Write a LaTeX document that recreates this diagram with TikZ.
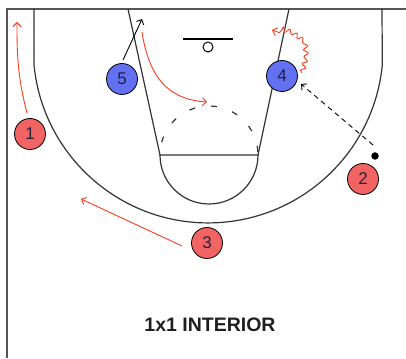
\documentclass[tikz,border=0pt]{standalone}
\usepackage{fontspec}
\setmainfont{Liberation Sans}
\usetikzlibrary{arrows.meta,decorations.pathmorphing}
\definecolor{court}{HTML}{333333}
\definecolor{border}{HTML}{555555}
\definecolor{offred}{HTML}{F26464}
\definecolor{defblue}{HTML}{6270F2}
\definecolor{runred}{HTML}{FF3B20}
\definecolor{digit}{HTML}{22223A}
\tikzset{
  courtline/.style={draw=court, line width=1.2pt},
  offense/.style={circle, draw=black, line width=0.8pt, fill=offred, minimum size=31pt, inner sep=0pt, text=digit, font=\fontsize{17}{17}\selectfont},
  defense/.style={circle, draw=black, line width=0.8pt, fill=defblue, minimum size=31pt, inner sep=0pt, text=digit, font=\fontsize{17}{17}\selectfont},
  cutarrow/.style={draw=runred, line width=0.9pt, -{Straight Barb[length=4pt,width=8pt]}},
  passarrow/.style={draw=black, line width=0.9pt, dash pattern=on 5pt off 4pt, -{Straight Barb[length=4pt,width=8pt]}},
  movearrow/.style={draw=black, line width=0.9pt, -{Straight Barb[length=4pt,width=8pt]}},
  dribble/.style={draw=runred, line width=0.9pt, decorate, decoration={snake, amplitude=2.2pt, segment length=7pt, post length=5pt}, -{Straight Barb[length=4pt,width=8pt]}}
}
\begin{document}
\begin{tikzpicture}[x=1pt,y=1pt]
\useasboundingbox[fill=white] (0,0) rectangle (406,358);
% borders
\draw[draw=border, line width=2pt] (7,0) -- (7,349) -- (406,349);
% three point line
\draw[courtline] (34,349) -- (34,293) arc[start angle=185.6, end angle=354.4, radius=175] -- (382,349);
% lane
\draw[courtline] (128,349) -- (160,203) -- (258,203) -- (289,349);
\draw[courtline] (160,203) arc[start angle=180, end angle=360, radius=49];
\draw[courtline, dash pattern=on 6pt off 16pt, dash phase=-3pt] (258,203) arc[start angle=0, end angle=180, radius=49];
% basket
\draw[draw=black, line width=1.2pt] (183,319) -- (233,319);
\draw[draw=black, line width=1pt] (208,311) circle[radius=5];
% players
\node[offense] (p1) at (30,224) {1};
\node[defense] (p5) at (122,279) {5};
\node[defense] (p4) at (282,282) {4};
\node[offense] (p2) at (363,179) {2};
\node[offense] (p3) at (207,115) {3};
\node[circle, fill=black, minimum size=7.5pt, inner sep=0pt] (ball) at (375,202) {};
% free ends
\coordinate (c1s) at (27,245);
\coordinate (c1e) at (17,336);
\coordinate (c5s) at (123,298);
\coordinate (c5e) at (142,339);
\coordinate (crs) at (142,326);
\coordinate (cre) at (207,256);
\coordinate (c4s) at (302,285);
\coordinate (c4e) at (272,328);
\coordinate (cbs) at (373,213);
\coordinate (cbe) at (301,274);
\coordinate (c3s) at (182,112);
\coordinate (c3e) at (81,159);
% movements
\draw[cutarrow] (c1s) .. controls (17,283) and (17,308) .. (c1e);
\draw[movearrow] (c5s) -- (c5e);
\draw[cutarrow] (crs) .. controls (150,273) and (175,258) .. (cre);
\draw[dribble] (c4s) -- (306,300) -- (305,312) -- (294,320) -- (c4e);
\draw[passarrow] (cbs) -- (cbe);
\draw[cutarrow] (c3s) -- (c3e);
% title
\node[font=\bfseries\fontsize{19.5}{19.5}\selectfont, text=black!88] (title) at (210,33) {1x1 INTERIOR};
\end{tikzpicture}
\end{document}
